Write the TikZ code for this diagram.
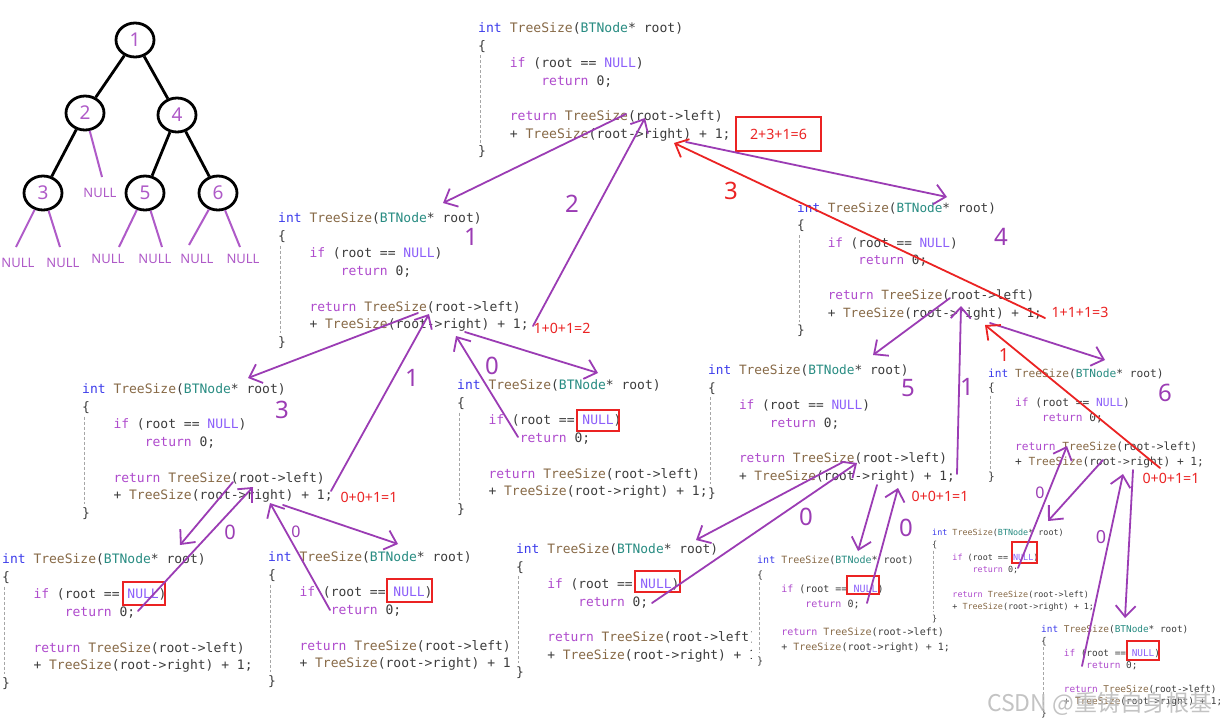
\documentclass[tikz,border=0pt]{standalone}
\usepackage{fontspec}
\setmainfont{Noto Sans}
\setmonofont{DejaVu Sans Mono}
\newfontfamily\cjk{Noto Sans CJK SC}
\usetikzlibrary{arrows.meta,shapes.geometric}

\definecolor{cint}{RGB}{60,60,235}
\definecolor{cfn}{RGB}{135,105,70}
\definecolor{ctype}{RGB}{40,140,130}
\definecolor{ckw}{RGB}{175,75,205}
\definecolor{cnull}{RGB}{140,95,250}
\definecolor{ctext}{RGB}{60,60,60}
\definecolor{pen}{RGB}{155,60,180}
\definecolor{redpen}{RGB}{235,35,35}
\definecolor{treepurple}{RGB}{175,90,200}

\newcommand{\Kint}[1]{\textcolor{cint}{#1}}
\newcommand{\Kfn}[1]{\textcolor{cfn}{#1}}
\newcommand{\Ktype}[1]{\textcolor{ctype}{#1}}
\newcommand{\Kkw}[1]{\textcolor{ckw}{#1}}
\newcommand{\Knull}[1]{\textcolor{cnull}{#1}}

% #1 name, #2 x, #3 y, #4 font size, #5 line spacing
\newcommand{\codeblk}[5]{%
\begin{scope}[shift={(#2,#3+0.22*#4)},every node/.style={anchor=mid west,inner sep=0pt,text=ctext,font=\fontsize{#4}{#4}\selectfont\ttfamily}]
\node (#1l0) at (0,0) {\Kint{int} \Kfn{TreeSize}(\Ktype{BTNode}* root)};
\node (#1l1) at (0,#5) {\{};
\node (#1l2) at (0,2*#5) {\hphantom{0000}\Kkw{if} (root == \Knull{NULL})};
\node (#1l3) at (0,3*#5) {\hphantom{00000000}\Kkw{return} 0;};
\node (#1l5) at (0,5*#5) {\hphantom{0000}\Kkw{return} \Kfn{TreeSize}(root->left)};
\node (#1l6) at (0,6*#5) {\hphantom{0000}+ \Kfn{TreeSize}(root->right) + 1;};
\node (#1l7) at (0,7*#5) {\}};
\draw[guide] (0.2*#4,1.45*#5) -- (0.2*#4,6.4*#5);
\end{scope}}

\begin{document}
\begin{tikzpicture}[x=1pt,y=-1pt,
  guide/.style={draw=gray!70,densely dashed,line width=0.6pt},
  parr/.style={draw=pen,line width=1.8pt,line cap=round,line join=round,-{Straight Barb[length=11pt,width=20pt]}},
  rarr/.style={parr,draw=redpen},
  redbox/.style={draw=redpen,line width=1.8pt},
  rlabel/.style={text=redpen,font=\fontsize{14.2}{15}\selectfont,inner sep=0pt},
  hand/.style={text=pen,font=\fontsize{24}{24}\selectfont,inner sep=0pt},
  redhand/.style={hand,text=redpen},
  tnode/.style={ellipse,draw=black,line width=2.8pt,minimum width=38pt,minimum height=34pt,text=treepurple,font=\fontsize{19}{19}\selectfont,inner sep=0pt},
  tedge/.style={draw=black,line width=2.8pt},
  nedge/.style={draw=treepurple,line width=2pt},
  nulllab/.style={text=treepurple,font=\fontsize{13}{13}\selectfont,inner sep=0pt}]
\fill[white] (0,0) rectangle (1222,723);
\useasboundingbox (0,0) rectangle (1222,723);

% ---------- tree ----------
\node[tnode] (t1) at (135,40) {1};
\node[tnode] (t2) at (85,113) {2};
\node[tnode] (t4) at (177,115) {4};
\node[tnode] (t3) at (43,193) {3};
\node[tnode] (t5) at (145,193) {5};
\node[tnode] (t6) at (218,193) {6};
\draw[tedge] (t1) -- (t2);
\draw[tedge] (t1) -- (t4);
\draw[tedge] (t2) -- (t3);
\draw[tedge] (t4) -- (t5);
\draw[tedge] (t4) -- (t6);
\coordinate (n2r) at (102,177);
\coordinate (n3l) at (16,247);
\coordinate (n3r) at (60,247);
\coordinate (n5l) at (119,247);
\coordinate (n5r) at (162,247);
\coordinate (n6l) at (189,245);
\coordinate (n6r) at (240,247);
\draw[nedge] (t2) -- (n2r);
\draw[nedge] (t3) -- (n3l);
\draw[nedge] (t3) -- (n3r);
\draw[nedge] (t5) -- (n5l);
\draw[nedge] (t5) -- (n5r);
\draw[nedge] (t6) -- (n6l);
\draw[nedge] (t6) -- (n6r);
\node[nulllab] (nl2r) at (100,193) {NULL};
\node[nulllab] (nl3l) at (18,263) {NULL};
\node[nulllab] (nl3r) at (63,263) {NULL};
\node[nulllab] (nl5l) at (108,259) {NULL};
\node[nulllab] (nl5r) at (155,259) {NULL};
\node[nulllab] (nl6l) at (197,259) {NULL};
\node[nulllab] (nl6r) at (243,259) {NULL};

% ---------- code blocks ----------
\codeblk{A}{478}{27}{13.1}{17.6}
\codeblk{B}{278}{217}{13.0}{17.7}
\codeblk{C}{797}{207}{12.7}{17.5}
\codeblk{D}{82}{388}{13.0}{17.7}
\codeblk{E}{457}{384}{13.0}{17.7}
\fill[white] (706,358) rectangle (975,500);
\codeblk{F}{708}{369}{12.8}{17.6}
\codeblk{G}{988}{372}{11.2}{14.7}
\codeblk{H}{2}{558}{13.0}{17.7}
\codeblk{I}{268}{556}{13.0}{17.7}
\fill[white] (513,538) rectangle (760,685);
\codeblk{J}{516}{548}{12.9}{17.6}
\fill[white] (752,549) rectangle (955,668);
\codeblk{K}{757}{559}{10.0}{14.4}
\codeblk{L}{932}{531}{8.4}{12.3}
\codeblk{M}{1041}{628}{9.4}{12.0}

% ---------- red boxes and sums ----------
\draw[redbox] (577,410) rectangle (619,431);
\draw[redbox] (123,582) rectangle (165,605);
\draw[redbox] (387,579) rectangle (432,602);
\draw[redbox] (635,571) rectangle (680,592);
\draw[redbox] (847,576) rectangle (879,594);
\draw[redbox] (1012,542) rectangle (1037,563);
\draw[redbox] (1127,641) rectangle (1159,660);
\node[redbox,minimum width=85pt,minimum height=34pt,inner sep=0pt] (sumA) at (778.5,134) {};
\node[rlabel] (sA) at (sumA) {2+3+1=6};
\node[rlabel] (sB) at (562,328) {1+0+1=2};
\node[rlabel] (sD) at (369,497) {0+0+1=1};
\node[rlabel] (sC) at (1080,312) {1+1+1=3};
\node[rlabel] (sF) at (940,496) {0+0+1=1};
\node[rlabel] (sG) at (1171,478) {0+0+1=1};

% ---------- arrow end points ----------
\coordinate (Aleft) at (626,114);
\coordinate (Aret) at (645,118);
\coordinate (Aright) at (686,142);
\coordinate (Aretr) at (674,143);
\coordinate (Btop) at (443,203);
\coordinate (Bend) at (533,326);
\coordinate (Bleft) at (418,313);
\coordinate (Bret) at (429,314);
\coordinate (Bright) at (465,332);
\coordinate (Bretr) at (456,336);
\coordinate (Ctop) at (947,197);
\coordinate (Cend) at (1045,318);
\coordinate (Cleft) at (950,298);
\coordinate (Cret) at (961,306);
\coordinate (Cright) at (990,323);
\coordinate (Cretr) at (985,325);
\coordinate (Dtop) at (248,378);
\coordinate (Dend) at (331,491);
\coordinate (Dleft) at (233,482);
\coordinate (Dret) at (253,487);
\coordinate (Dright) at (283,505);
\coordinate (Dretr) at (270,503);
\coordinate (Etop) at (598,373);
\coordinate (Eend) at (518,437);
\coordinate (Ftop) at (873,355);
\coordinate (Fend) at (957,474);
\coordinate (Fleft) at (843,462);
\coordinate (Fret) at (857,463);
\coordinate (Fright) at (877,485);
\coordinate (Fretr) at (898,488);
\coordinate (Gtop) at (1105,360);
\coordinate (Gend) at (1160,468);
\coordinate (Gleft) at (1103,460);
\coordinate (Gret) at (1067,446);
\coordinate (Gright) at (1133,470);
\coordinate (Gretr) at (1123,474);
\coordinate (Htop) at (180,545);
\coordinate (Hend) at (138,611);
\coordinate (Itop) at (398,544);
\coordinate (Iend) at (330,610);
\coordinate (Jtop) at (696,540);
\coordinate (Jend) at (652,603);
\coordinate (Ktop) at (858,551);
\coordinate (Kend) at (867,603);
\coordinate (Ltop) at (1048,521);
\coordinate (Lend) at (1018,568);
\coordinate (Mtop) at (1125,618);
\coordinate (Mend) at (1082,666);

% ---------- arrows ----------
\draw[parr] (Aleft) -- (Btop);
\draw[parr] (Bend) -- (Aret);
\draw[parr] (Aright) -- (Ctop);
\draw[rarr] (Cend) -- (Aretr);
\draw[parr] (Bleft) -- (Dtop);
\draw[parr] (Dend) -- (Bret);
\draw[parr] (Bright) -- (Etop);
\draw[parr] (Eend) -- (Bretr);
\draw[parr] (Dleft) -- (Htop);
\draw[parr] (Hend) -- (Dret);
\draw[parr] (Dright) -- (Itop);
\draw[parr] (Iend) -- (Dretr);
\draw[parr] (Cleft) -- (Ftop);
\draw[parr] (Fend) -- (Cret);
\draw[parr] (Cright) -- (Gtop);
\draw[rarr] (Gend) -- (Cretr);
\draw[parr] (Fleft) -- (Jtop);
\draw[parr] (Jend) -- (Fret);
\draw[parr] (Fright) -- (Ktop);
\draw[parr] (Kend) -- (Fretr);
\draw[parr] (Gleft) -- (Ltop);
\draw[parr] (Lend) -- (Gret);
\draw[parr] (Gright) -- (Mtop);
\draw[parr] (Mend) -- (Gretr);

% ---------- handwritten numbers ----------
\node[hand] (h2) at (572,204) {2};
\node[hand] (h1a) at (471,237) {1};
\node[hand] (h3) at (282,410) {3};
\node[hand] (h4) at (1001,237) {4};
\node[hand] (h5) at (908,388) {5};
\node[hand] (h6) at (1165,393) {6};
\node[hand] (h1b) at (412,378) {1};
\node[hand] (h1c) at (967,387) {1};
\node[hand] (h0a) at (492,366) {0};
\node[hand,font=\fontsize{20}{20}\selectfont] (h0b) at (230,532) {0};
\node[hand,font=\fontsize{16}{16}\selectfont] (h0c) at (296,532) {0};
\node[hand] (h0d) at (806,517) {0};
\node[hand] (h0e) at (906,528) {0};
\node[hand,font=\fontsize{16}{16}\selectfont] (h0f) at (1040,493) {0};
\node[hand,font=\fontsize{18}{18}\selectfont] (h0g) at (1101,537) {0};
\node[redhand] (r3) at (731,191) {3};
\node[redhand,font=\fontsize{18}{18}\selectfont] (r1) at (1004,355) {1};

% ---------- watermark ----------
\node[anchor=west,inner sep=0pt,text=gray!55,opacity=0.85,font=\cjk\fontsize{23}{23}\selectfont] (wm) at (987,704) {CSDN @重铸自身根基};
\end{tikzpicture}
\end{document}
